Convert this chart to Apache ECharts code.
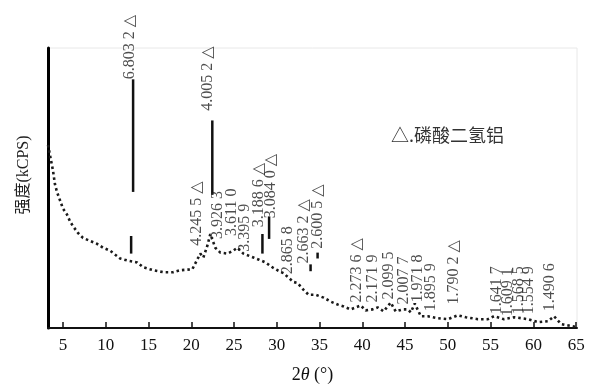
<!DOCTYPE html>
<html>
<head>
<meta charset="utf-8">
<script src="https://cdn.jsdelivr.net/npm/echarts@6/dist/echarts.min.js"></script>
<style>html,body{margin:0;padding:0;background:#fff;}#c{width:591px;height:389px;}</style>
</head>
<body>
<div id="c"></div>
<script>
// Baseline (background) trace: 2θ and intensity (arbitrary units)
const baseX = [3.25,3.83,4.06,4.30,5.0,5.47,5.82,6.17,6.76,7.34,8.16,8.98,9.69,10.51,11.68,12.5,13.67,14.38,15.55,16.72,17.89,18.71,20.12,21.06,21.41,21.88,22.23,22.81,23.4,24.22,24.92,25.39,26.09,27.27,27.85,28.67,29.49,30.08,30.78,31.95,32.42,33.13,33.71,34.53,35.47,36.29,37.11,37.81,38.63,39.81,40.39,41.2,41.8,42.5,43.32,43.9,44.73,45.31,45.67,46.13,46.84,47.66,48.83,50.0,51.17,52.11,53.52,54.69,55.39,56.56,57.74,59.38,60.55,61.72,62.42,63.24,64.42,65.0];
const baseY = [187,161,147,139,122,116,109,104,97,92,89,86,82,79,71,69,67,62,59,57,57,59,60,76,72,84,96,82,77,76,79,82,76,72,70,67,62,59,56,47,46,39,34,34,31,27,24,22,19,23,18,19,21,17,26,17,19,19,16,25,12,12,10,9,13,11,9,9,12,9,11,9,6,7,12,4,2,1];

// Peak lines: position, lower and upper intensity
const peakX    = [13.2, 12.97, 22.46, 28.32, 29.1, 33.95, 34.77];
const peakLow  = [139, 76, 136, 76, 91, 58, 71];
const peakHigh = [254, 94, 212, 96, 114, 65, 77];

// Peak annotations (d-spacing)
const labelX = [12.85,21.99,20.70,23.16,24.69,26.21,27.85,29.26,31.25,33.13,34.77,39.34,41.21,43.09,44.85,46.49,48.01,50.71,55.74,57.03,58.32,59.49,61.95];
const labelY = [254,222,84,91,94,78,103,112,55,66,81,26,26,29,24,26,17,24,14,12,14,14,17];
const labelText = ['6.803 2 △','4.005 2 △','4.245 5 △','3.926 3','3.611 0','3.395 9','3.188 6 △','3.084 0 △','2.865 8','2.663 2 △','2.600 5 △','2.273 6 △','2.171 9','2.099 5','2.007 7','1.971 8','1.895 9','1.790 2 △','1.641 7','1.609 1','1.568 5','1.554 9','1.490 6'];

const tickValues = [5,10,15,20,25,30,35,40,45,50,55,60,65];

const SERIF = '"Liberation Serif","DejaVu Serif","Noto Sans CJK SC",serif';
const chart = echarts.init(document.getElementById('c'), null, {renderer:'canvas'});
chart.setOption({
  animation: false,
  grid: {left: 48, right: 14, top: 48, bottom: 55, show: true, borderColor: '#e8e8e8', borderWidth: 1},
  xAxis: {
    type: 'value', min: 3.25, max: 65.1,
    name: '2{i|θ} (°)', nameLocation: 'middle', nameGap: 38,
    nameTextStyle: {fontFamily: SERIF, fontSize: 18, color: '#111',
      rich: {i: {fontStyle: 'italic', fontFamily: SERIF, fontSize: 18, color: '#111'}}},
    axisLine: {show: true, onZero: false, lineStyle: {color: '#111', width: 2}},
    axisTick: {show: true, inside: true, length: 6, customValues: tickValues, lineStyle: {color: '#111', width: 1.5}},
    axisLabel: {customValues: tickValues, margin: 9, fontFamily: SERIF, fontSize: 17, color: '#111'},
    splitLine: {show: false}
  },
  yAxis: {
    type: 'value', min: 0, max: 286,
    axisLine: {show: true, onZero: false, lineStyle: {color: '#000', width: 3}},
    axisTick: {show: false}, axisLabel: {show: false}, splitLine: {show: false}
  },
  graphic: [
    {type: 'text', x: 24, y: 175, rotation: Math.PI / 2,
     style: {text: '强度(kCPS)', fontFamily: SERIF, fontSize: 16, fill: '#222', align: 'center', verticalAlign: 'middle'}},
    {type: 'text', x: 391, y: 135,
     style: {text: '△.磷酸二氢铝', fontFamily: '"Noto Sans CJK SC",sans-serif', fontSize: 18, fill: '#333', align: 'left', verticalAlign: 'middle'}}
  ],
  series: [
    {type: 'line', data: baseX.map((x, i) => [x, baseY[i]]), showSymbol: false, silent: true,
     lineStyle: {color: '#1a1a1a', width: 2.6, type: [2.5, 3]}},
    {type: 'custom', silent: true,
     data: peakX.map((x, i) => [x, peakLow[i], peakHigh[i]]),
     encode: {x: 0, y: [1, 2]},
     renderItem: function (params, api) {
       const p1 = api.coord([api.value(0), api.value(1)]);
       const p2 = api.coord([api.value(0), api.value(2)]);
       return {type: 'line', shape: {x1: p1[0], y1: p1[1], x2: p2[0], y2: p2[1]},
               style: {stroke: '#111', lineWidth: 2.5}};
     }},
    {type: 'scatter', silent: true, symbolSize: 1, itemStyle: {color: 'rgba(0,0,0,0)'},
     data: labelX.map((x, i) => ({value: [x, labelY[i]], label: {formatter: labelText[i]}})),
     label: {show: true, position: 'inside', rotate: 90, align: 'left', verticalAlign: 'middle',
             fontFamily: SERIF, fontSize: 16, color: '#222'}}
  ]
});
</script>
</body>
</html>
